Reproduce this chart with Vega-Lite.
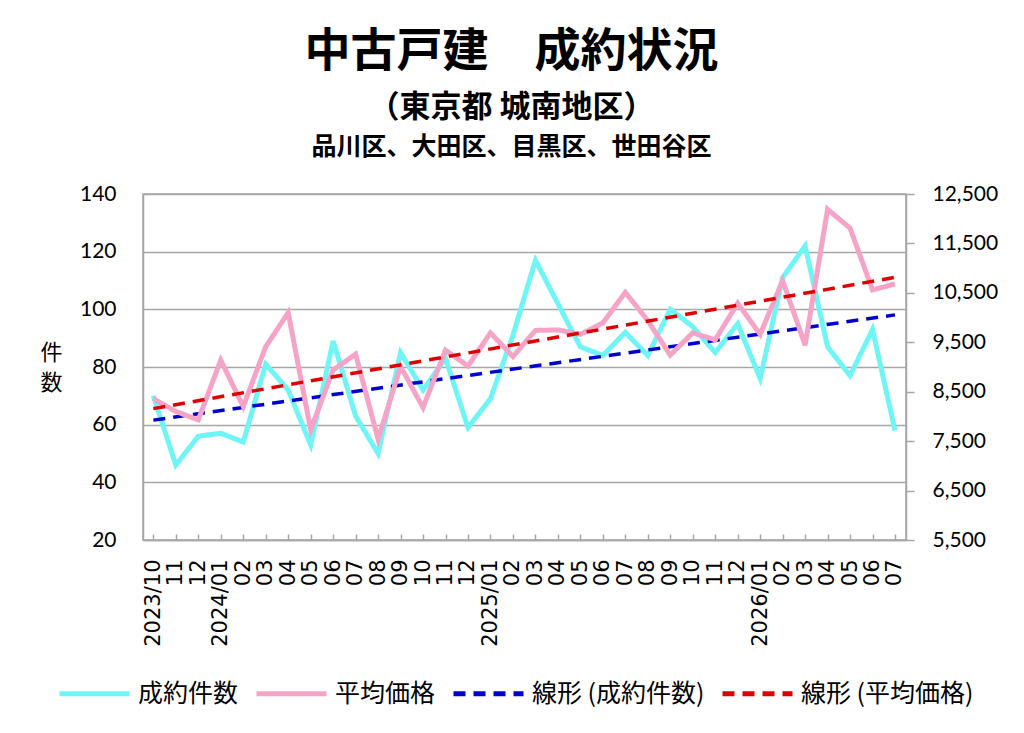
{
  "$schema": "https://vega.github.io/schema/vega-lite/v6.json",
  "width": 763,
  "height": 346,
  "autosize": "none",
  "padding": {"left": 143, "top": 194, "right": 118, "bottom": 193},
  "background": "white",
  "title": {
    "text": "中古戸建　成約状況",
    "subtitle": "（東京都 城南地区）",
    "font": "Noto Sans CJK JP",
    "fontSize": 46,
    "fontWeight": "bold",
    "color": "black",
    "subtitleFont": "Noto Sans CJK JP",
    "subtitleFontSize": 31,
    "subtitleFontWeight": "bold",
    "subtitleColor": "black",
    "anchor": "middle",
    "dx": -13,
    "offset": 10,
    "subtitlePadding": 17
  },
  "data": {
    "values": [
      {"m": "2023/10", "i": 0, "count": 70, "price": 8360},
      {"m": "11", "i": 1, "count": 46, "price": 8100},
      {"m": "12", "i": 2, "count": 56, "price": 7930},
      {"m": "2024/01", "i": 3, "count": 57, "price": 9140},
      {"m": "02", "i": 4, "count": 54, "price": 8200},
      {"m": "03", "i": 5, "count": 81, "price": 9410},
      {"m": "04", "i": 6, "count": 72, "price": 10100},
      {"m": "05", "i": 7, "count": 53, "price": 7730},
      {"m": "06", "i": 8, "count": 89, "price": 8940},
      {"m": "07", "i": 9, "count": 63, "price": 9260},
      {"m": "08", "i": 10, "count": 50, "price": 7540},
      {"m": "09", "i": 11, "count": 85, "price": 9010},
      {"m": "10", "i": 12, "count": 72, "price": 8180},
      {"m": "11", "i": 13, "count": 83, "price": 9340},
      {"m": "12", "i": 14, "count": 59, "price": 9020},
      {"m": "2025/01", "i": 15, "count": 69, "price": 9690},
      {"m": "02", "i": 16, "count": 91, "price": 9210},
      {"m": "03", "i": 17, "count": 117, "price": 9740},
      {"m": "04", "i": 18, "count": 102, "price": 9750},
      {"m": "05", "i": 19, "count": 87, "price": 9660},
      {"m": "06", "i": 20, "count": 84, "price": 9890},
      {"m": "07", "i": 21, "count": 92, "price": 10510},
      {"m": "08", "i": 22, "count": 84, "price": 9940},
      {"m": "09", "i": 23, "count": 100, "price": 9240},
      {"m": "10", "i": 24, "count": 94, "price": 9690},
      {"m": "11", "i": 25, "count": 85, "price": 9550},
      {"m": "12", "i": 26, "count": 95, "price": 10290},
      {"m": "2026/01", "i": 27, "count": 76, "price": 9660},
      {"m": "02", "i": 28, "count": 111, "price": 10750},
      {"m": "03", "i": 29, "count": 122, "price": 9440},
      {"m": "04", "i": 30, "count": 87, "price": 12190},
      {"m": "05", "i": 31, "count": 77, "price": 11810},
      {"m": "06", "i": 32, "count": 93, "price": 10560},
      {"m": "07", "i": 33, "count": 58, "price": 10680}
    ]
  },
  "layer": [
    {
      "encoding": {
        "x": {
          "field": "i",
          "type": "quantitative",
          "scale": {"domain": [-0.46, 33.49], "nice": false, "zero": false},
          "axis": {
            "orient": "bottom",
            "title": null,
            "values": [0,1,2,3,4,5,6,7,8,9,10,11,12,13,14,15,16,17,18,19,20,21,22,23,24,25,26,27,28,29,30,31,32,33],
            "labelExpr": "['2023/10','11','12','2024/01','02','03','04','05','06','07','08','09','10','11','12','2025/01','02','03','04','05','06','07','08','09','10','11','12','2026/01','02','03','04','05','06','07'][datum.value]",
            "labelAngle": -90,
            "labelFont": "DejaVu Sans",
            "labelFontSize": 21,
            "labelOverlap": false,
            "labelFlush": false,
            "tickSize": -6,
            "labelPadding": 25,
            "grid": false
          }
        },
        "y": {
          "field": "count",
          "type": "quantitative",
          "scale": {"domain": [20, 140], "nice": false, "zero": false},
          "axis": {
            "orient": "left",
            "values": [20, 40, 60, 80, 100, 120, 140],
            "grid": true,
            "ticks": false,
            "labelPadding": 27,
            "labelFont": "Lato",
            "labelFontSize": 21,
            "title": ["件", "数"],
            "titleAngle": 0,
            "titleX": -92,
            "titleY": 158,
            "titleAlign": "center",
            "titleBaseline": "middle",
            "titleFont": "Noto Sans CJK JP",
            "titleFontSize": 22,
            "titleFontWeight": "normal",
            "titleLineHeight": 30
          }
        }
      },
      "layer": [
        {
          "mark": {"type": "line", "strokeWidth": 5},
          "encoding": {
            "color": {
              "datum": "成約件数",
              "type": "nominal",
              "scale": {
                "domain": ["成約件数", "平均価格", "線形 (成約件数)", "線形 (平均価格)"],
                "range": ["#6ff5f5", "#f5a3c7", "#0000cc", "#dd0000"]
              },
              "legend": {
                "orient": "none",
                "legendX": -86,
                "legendY": 462,
                "direction": "horizontal",
                "columns": 4,
                "title": null,
                "symbolType": "stroke",
                "symbolSize": 4900,
                "symbolStrokeWidth": 5,
                "labelFont": "Noto Sans CJK JP",
                "labelFontSize": 25,
                "labelColor": "black",
                "labelOffset": 6,
                "columnPadding": 7,
                "labelLimit": 400
              }
            },
            "strokeDash": {
              "datum": "成約件数",
              "type": "nominal",
              "scale": {
                "domain": ["成約件数", "平均価格", "線形 (成約件数)", "線形 (平均価格)"],
                "range": [[1, 0], [1, 0], [12, 8], [12, 8]]
              },
              "legend": {
                "orient": "none",
                "legendX": -86,
                "legendY": 462,
                "direction": "horizontal",
                "columns": 4,
                "title": null,
                "symbolType": "stroke",
                "symbolSize": 4900,
                "symbolStrokeWidth": 5,
                "labelFont": "Noto Sans CJK JP",
                "labelFontSize": 25,
                "labelColor": "black",
                "labelOffset": 6,
                "columnPadding": 7,
                "labelLimit": 400
              }
            }
          }
        },
        {
          "transform": [{"regression": "count", "on": "i"}],
          "mark": {"type": "line", "strokeWidth": 3.5},
          "encoding": {
            "color": {"datum": "線形 (成約件数)", "type": "nominal"},
            "strokeDash": {"datum": "線形 (成約件数)", "type": "nominal"}
          }
        }
      ]
    },
    {
      "encoding": {
        "x": {
          "field": "i",
          "type": "quantitative",
          "axis": {
            "orient": "top",
            "labels": false,
            "ticks": false,
            "domain": false,
            "grid": false,
            "title": "品川区、大田区、目黒区、世田谷区",
            "titleFont": "Noto Sans CJK JP",
            "titleFontSize": 25,
            "titleFontWeight": "bold",
            "titleColor": "black",
            "titleX": 368,
            "titleY": -48,
            "titleAlign": "center",
            "titleBaseline": "middle",
            "titleAngle": 0
          }
        },
        "y": {
          "field": "price",
          "type": "quantitative",
          "scale": {"domain": [5500, 12500], "nice": false, "zero": false},
          "axis": {
            "orient": "right",
            "values": [5500, 6500, 7500, 8500, 9500, 10500, 11500, 12500],
            "format": ",.0f",
            "grid": false,
            "tickSize": 8,
            "labelPadding": 18,
            "labelFont": "Lato",
            "labelFontSize": 21,
            "title": null
          }
        }
      },
      "layer": [
        {
          "mark": {"type": "line", "strokeWidth": 5},
          "encoding": {
            "color": {"datum": "平均価格", "type": "nominal"},
            "strokeDash": {"datum": "平均価格", "type": "nominal"}
          }
        },
        {
          "transform": [{"regression": "price", "on": "i"}],
          "mark": {"type": "line", "strokeWidth": 3.5},
          "encoding": {
            "color": {"datum": "線形 (平均価格)", "type": "nominal"},
            "strokeDash": {"datum": "線形 (平均価格)", "type": "nominal"}
          }
        }
      ]
    }
  ],
  "resolve": {"scale": {"y": "independent"}, "axis": {"x": "independent"}},
  "config": {
    "view": {"stroke": "#a6a6a6", "strokeWidth": 1.5},
    "axis": {
      "labelColor": "black",
      "titleColor": "black",
      "domainColor": "#a6a6a6",
      "domainWidth": 1.5,
      "gridColor": "#a6a6a6",
      "gridWidth": 1.5,
      "tickColor": "#a6a6a6",
      "tickWidth": 1.5
    }
  }
}
